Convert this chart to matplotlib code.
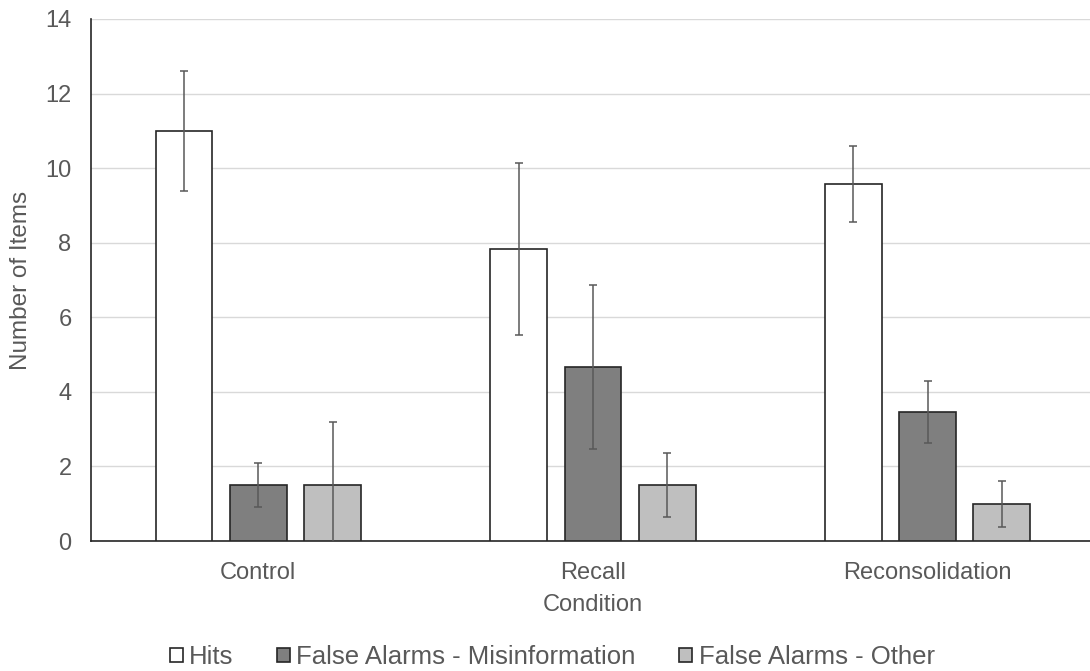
import matplotlib.pyplot as plt
import numpy as np

conditions = ["Control", "Recall", "Reconsolidation"]
series = ["Hits", "False Alarms - Misinformation", "False Alarms - Other"]
means = {
    "Hits": [11.0, 7.83, 9.57],
    "False Alarms - Misinformation": [1.5, 4.67, 3.46],
    "False Alarms - Other": [1.5, 1.5, 1.0],
}
errors = {
    "Hits": [1.6, 2.3, 1.02],
    "False Alarms - Misinformation": [0.59, 2.2, 0.83],
    "False Alarms - Other": [1.69, 0.86, 0.62],
}
colors = {
    "Hits": "#ffffff",
    "False Alarms - Misinformation": "#7f7f7f",
    "False Alarms - Other": "#bfbfbf",
}

plt.rcParams["font.family"] = ["Liberation Sans", "DejaVu Sans"]
text_color = "#595959"

fig = plt.figure(figsize=(10.9, 6.71), dpi=100)
ax = fig.add_axes([0.0835, 0.1937, 0.921, 0.778])

x = np.arange(len(conditions))
width = 0.17
offset = 0.222
for i, name in enumerate(series):
    ax.bar(
        x + (i - 1) * offset,
        means[name],
        width,
        yerr=errors[name],
        color=colors[name],
        edgecolor="#262626",
        linewidth=1.2,
        label=name,
        error_kw=dict(ecolor="#595959", elinewidth=1.1, capsize=3, capthick=1.1),
        zorder=3,
    )

ax.set_xlim(-0.5, 2.5)
ax.set_ylim(0, 14)
ax.set_yticks(np.arange(0, 15, 2))
ax.set_xticks(x)
ax.set_xticklabels(conditions)
ax.grid(axis="y", color="#d9d9d9", linewidth=1, zorder=0)
ax.set_axisbelow(True)
for side in ("top", "right"):
    ax.spines[side].set_visible(False)
for side in ("left", "bottom"):
    ax.spines[side].set_color("#262626")
    ax.spines[side].set_linewidth(1.2)
ax.tick_params(axis="both", length=0, labelsize=17, labelcolor=text_color)
ax.tick_params(axis="y", pad=14)
ax.tick_params(axis="x", pad=15)
ax.set_ylabel("Number of Items", fontsize=17.5, color=text_color)
ax.yaxis.set_label_coords(-0.059, 0.5)
ax.set_xlabel("Condition", fontsize=17, color=text_color, labelpad=7)

ax.legend(
    loc="upper center",
    bbox_to_anchor=(0.4595, -0.155),
    ncol=3,
    frameon=False,
    fontsize=18.5,
    labelcolor=text_color,
    handlelength=0.5,
    handleheight=0.5,
    handletextpad=0.25,
    columnspacing=1.7,
)

fig.savefig("out.png", dpi=100)
